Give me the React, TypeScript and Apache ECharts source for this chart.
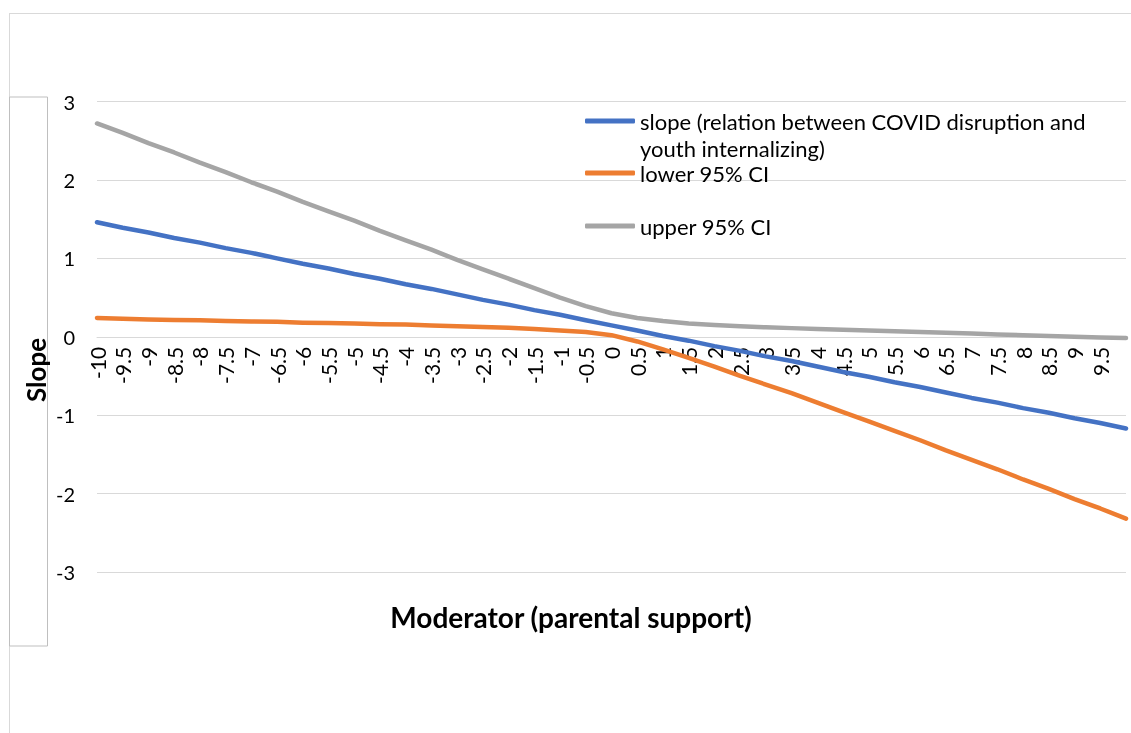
import React, { useEffect, useRef } from "react";
import * as echarts from "echarts";

const categories = [
  "-10", "-9.5", "-9", "-8.5", "-8", "-7.5", "-7", "-6.5", "-6", "-5.5",
  "-5", "-4.5", "-4", "-3.5", "-3", "-2.5", "-2", "-1.5", "-1", "-0.5",
  "0", "0.5", "1", "1.5", "2", "2.5", "3", "3.5", "4", "4.5",
  "5", "5.5", "6", "6.5", "7", "7.5", "8", "8.5", "9", "9.5", "10",
];

const slopeValues = [
  1.46, 1.39, 1.33, 1.26, 1.2, 1.13, 1.07, 1.0, 0.93, 0.87,
  0.8, 0.74, 0.67, 0.61, 0.54, 0.47, 0.41, 0.34, 0.28, 0.21,
  0.145, 0.08, 0.01, -0.05, -0.12, -0.18, -0.25, -0.31, -0.38, -0.45,
  -0.51, -0.58, -0.64, -0.71, -0.78, -0.84, -0.91, -0.97, -1.04, -1.1, -1.17,
];

const lowerValues = [
  0.24, 0.23, 0.22, 0.215, 0.21, 0.2, 0.195, 0.19, 0.18, 0.175,
  0.17, 0.16, 0.155, 0.145, 0.135, 0.125, 0.115, 0.1, 0.08, 0.06,
  0.02, -0.06, -0.16, -0.27, -0.38, -0.5, -0.61, -0.72, -0.84, -0.96,
  -1.08, -1.2, -1.32, -1.45, -1.57, -1.69, -1.82, -1.94, -2.07, -2.19, -2.32,
];

const upperValues = [
  2.72, 2.6, 2.47, 2.35, 2.22, 2.1, 1.97, 1.85, 1.72, 1.6,
  1.48, 1.35, 1.23, 1.11, 0.98, 0.86, 0.74, 0.62, 0.5, 0.39,
  0.3, 0.24, 0.2, 0.17, 0.15, 0.135, 0.12, 0.11, 0.1, 0.09,
  0.08, 0.07, 0.06, 0.05, 0.04, 0.03, 0.02, 0.01, 0.0, -0.01, -0.015,
];

const seriesNames = [
  "slope (relation between COVID disruption and youth internalizing)",
  "lower 95% CI",
  "upper 95% CI",
];
const seriesColors = ["#4472C4", "#ED7D31", "#A5A5A5"];

const FONT = "Lato, 'Noto Sans', sans-serif";

export default function App() {
  const ref = useRef<HTMLDivElement>(null);
  useEffect(() => {
    if (!ref.current) return;
    const chart = echarts.init(ref.current, undefined, { renderer: "svg" });
    const values = [slopeValues, lowerValues, upperValues];
    const gridTop = 101.5;
    const gridBottom = 161;
    const plotH = 733 - gridTop - gridBottom;
    // offset the category axis so that it sits on y = 0 (Excel "crosses at 0")
    const zeroOffset = -plotH / 2;
    chart.setOption({
      animation: false,
      textStyle: { fontFamily: FONT },
      grid: { left: 97, right: 5, top: gridTop, bottom: gridBottom, containLabel: false },
      legend: [
        {
          data: [{ name: seriesNames[0], icon: "roundRect" }],
          left: 585,
          top: 80.5,
          padding: 0,
          itemWidth: 50,
          itemHeight: 5,
          formatter: () => "\nslope (relation between COVID disruption and\nyouth internalizing)",
          textStyle: { fontFamily: FONT, fontSize: 22, color: "#000", lineHeight: 27 },
          selectedMode: false,
        },
        {
          data: [
            { name: seriesNames[1], icon: "roundRect" },
            { name: seriesNames[2], icon: "roundRect" },
          ],
          orient: "vertical",
          left: 585,
          top: 162,
          padding: 0,
          itemGap: 31,
          itemWidth: 50,
          itemHeight: 5,
          textStyle: { fontFamily: FONT, fontSize: 22, color: "#000", lineHeight: 22 },
          selectedMode: false,
        },
      ],
      xAxis: {
        type: "category",
        data: categories,
        boundaryGap: false,
        offset: zeroOffset,
        axisLine: { onZero: false, lineStyle: { color: "#D9D9D9", width: 1 } },
        axisTick: { show: false },
        axisLabel: {
          rotate: 90,
          interval: (index: number) => index < 40,
          margin: 10,
          fontFamily: FONT,
          fontSize: 21,
          color: "#000",
        },
        splitLine: { show: false },
      },
      yAxis: {
        type: "value",
        min: -3,
        max: 3,
        interval: 1,
        axisLine: { show: false },
        axisTick: { show: false },
        axisLabel: { margin: 22, fontFamily: FONT, fontSize: 20, color: "#000" },
        splitLine: { lineStyle: { color: "#D9D9D9", width: 1 } },
      },
      series: seriesNames.map((name, i) => ({
        name,
        type: "line",
        data: values[i],
        smooth: false,
        showSymbol: false,
        symbol: "none",
        lineStyle: { color: seriesColors[i], width: 4.5, cap: "round", join: "round" },
        itemStyle: { color: seriesColors[i] },
        z: 2 + i,
      })),
      graphic: [
        { type: "line", shape: { x1: 9, y1: 13.5, x2: 1131, y2: 13.5 }, style: { stroke: "#D9D9D9", lineWidth: 1 }, silent: true },
        { type: "line", shape: { x1: 9.5, y1: 13, x2: 9.5, y2: 733 }, style: { stroke: "#D9D9D9", lineWidth: 1 }, silent: true },
        { type: "rect", shape: { x: 9.5, y: 97, width: 38, height: 549 }, style: { fill: "none", stroke: "#BFBFBF", lineWidth: 1 }, silent: true },
        {
          type: "text",
          x: 36,
          y: 370,
          rotation: Math.PI / 2,
          style: { text: "Slope", font: `bold 26px ${FONT}`, fill: "#000", align: "center", verticalAlign: "middle" },
          silent: true,
        },
        {
          type: "text",
          x: 571,
          y: 617,
          style: { text: "Moderator (parental support)", font: `bold 28px ${FONT}`, fill: "#000", align: "center", verticalAlign: "middle" },
          silent: true,
        },
      ],
    });
    return () => chart.dispose();
  }, []);
  return <div ref={ref} style={{ position: "fixed", left: 0, top: 0, width: 1131, height: 733 }} />;
}
